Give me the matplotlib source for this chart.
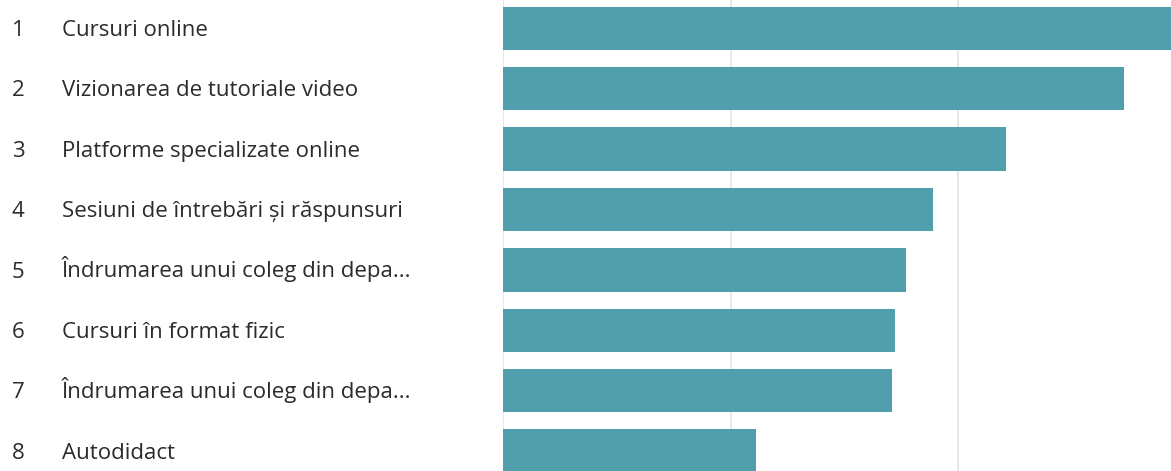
import matplotlib
matplotlib.use("Agg")
import matplotlib.pyplot as plt
from matplotlib.transforms import blended_transform_factory

# Ranked learning methods and their scores
ranks = ["1", "2", "3", "4", "5", "6", "7", "8"]
methods = [
    "Cursuri online",
    "Vizionarea de tutoriale video",
    "Platforme specializate online",
    "Sesiuni de întrebări și răspunsuri",
    "Îndrumarea unui coleg din depa...",
    "Cursuri în format fizic",
    "Îndrumarea unui coleg din depa...",
    "Autodidact",
]
scores = [2.96, 2.73, 2.21, 1.89, 1.77, 1.72, 1.71, 1.11]
grid_ticks = [0, 1, 2, 3]

W, H, DPI = 1171, 471, 100
fig = plt.figure(figsize=(W / DPI, H / DPI), dpi=DPI)
fig.patch.set_facecolor("white")

plt.rcParams["font.family"] = ["Open Sans", "DejaVu Sans"]

x0_px = 503.3
unit_px = 227.5
pitch_px = 60.4
first_center_px = 28.3

xmax = 3.3
ax_left = x0_px / W
ax_width = xmax * unit_px / W
ax = fig.add_axes([ax_left, 0.0, ax_width, 1.0])

y_top = -first_center_px / pitch_px
y_bottom = (H - first_center_px) / pitch_px
ax.set_ylim(y_bottom, y_top)
ax.set_xlim(0, xmax)

ypos = list(range(len(methods)))
ax.barh(ypos, scores, height=43.5 / pitch_px, color="#519FAC", zorder=2)

for g in grid_ticks:
    ax.axvline(g, color="#E8E8E8", lw=1.5, zorder=1)

for s in ax.spines.values():
    s.set_visible(False)
ax.set_xticks([])
ax.set_yticks([])

# Labels sit on a shared baseline a little below each bar's centre line
tr = blended_transform_factory(fig.transFigure, ax.transData)
text_color = "#2B2B2B"
baseline_shift = 7.6 / pitch_px
for y, r, m in zip(ypos, ranks, methods):
    fig.text(12 / W, y + baseline_shift, r, transform=tr, ha="left",
             va="baseline", fontsize=16, color=text_color)
    fig.text(62 / W, y + baseline_shift, m, transform=tr, ha="left",
             va="baseline", fontsize=16, color=text_color)

fig.savefig("out.png", dpi=DPI, facecolor="white")
